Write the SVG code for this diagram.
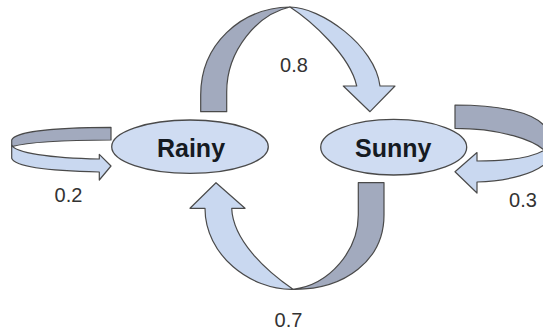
<svg xmlns="http://www.w3.org/2000/svg" width="543" height="332" viewBox="0 0 543 332">
<style>
.lt{fill:#c9d8f0;stroke:#4a4a4a;stroke-width:1.2;stroke-linejoin:round}
.dk{fill:#a2aabe;stroke:#4a4a4a;stroke-width:1.2;stroke-linejoin:round}
.node{fill:#cfdcf2;stroke:#4a4a4a;stroke-width:1.3}
.nt{font-family:"Liberation Sans",Arial,sans-serif;font-weight:bold;font-size:25px;fill:#151a22;text-anchor:middle}
.lb{font-family:"Liberation Sans",Arial,sans-serif;font-size:20px;fill:#333;text-anchor:middle}
</style>
<rect width="543" height="332" fill="#fff"/>
<g id="connectors">
  <g id="rainy-to-sunny">
    <path class="dk" d="M200.7,111.7 L200.7,95 C200.7,45 240,8 290,7 C258,14 226.7,50 226.7,92 L226.7,111.7 Z"/>
    <path class="lt" d="M290,7 C320,7 375,45 380,86 L395,86 L370,111.7 L343.3,86 L356.7,86 C350,55 310,20 290,7 Z"/>
  </g>
  <g id="sunny-to-rainy">
    <path class="dk" d="M384,182.7 L384,215 C384,260 345,290 293,289.3 C330,285 358.3,250 358.3,215 L358.3,182.7 Z"/>
    <path class="lt" d="M293,289.3 C250,290 205,255 205,208.3 L190,208.3 L216,182.7 L245,208.3 L231.7,208.3 C233,240 265,270 293,289.3 Z"/>
  </g>
  <g id="rainy-self">
    <path class="dk" d="M111,127.3 C60,127.5 15,131 11.7,140 L11.7,146.7 C25,143 60,140 111,140 Z"/>
    <path class="lt" d="M11.7,145 C15,153 50,158 99.3,159 L99.3,154.3 L111,166 L99.3,180 L99.3,172 C50,171 15,167 11.7,158.3 Z"/>
  </g>
  <g id="sunny-self">
    <path class="dk" d="M455,105 C500,105 535,112 546,128 L546,152 C535,140 500,128.3 455,128.3 Z"/>
    <path class="lt" d="M546,149 C535,157 510,161 477,161 L477,152.5 L455,171.7 L477,193 L477,182 C510,181 535,173 546,163 Z"/>
  </g>
  <text class="lb" x="294" y="71.7">0.8</text>
  <text class="lb" x="288.5" y="327">0.7</text>
  <text class="lb" x="68.5" y="202">0.2</text>
  <text class="lb" x="523" y="206.7">0.3</text>
</g>
<g id="rainy">
  <ellipse class="node" cx="190" cy="146.7" rx="78.3" ry="26.7"/>
  <text class="nt" x="191" y="156.5">Rainy</text>
</g>
<g id="sunny">
  <ellipse class="node" cx="393.7" cy="147.2" rx="73" ry="27.8"/>
  <text class="nt" x="393.3" y="156.5">Sunny</text>
</g>
</svg>
